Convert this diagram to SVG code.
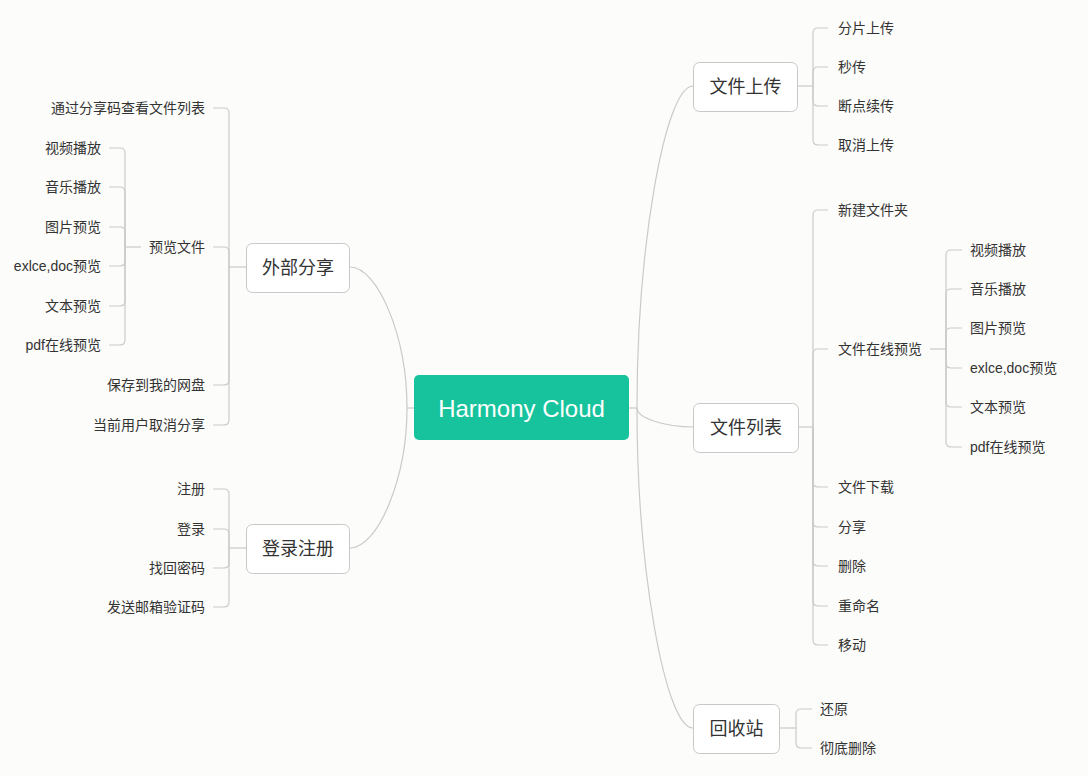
<svg xmlns="http://www.w3.org/2000/svg" width="1088" height="776" viewBox="0 0 1088 776">
<style>
text{font-family:"Liberation Sans","Noto Sans CJK SC",sans-serif;fill:#333;dominant-baseline:central}
.leaf{font-size:14px}
.r{text-anchor:start}
.l{text-anchor:end}
.node rect{fill:#fff;stroke:#c8c8c8;stroke-width:1}
.node text{font-size:18px;text-anchor:middle}
#root rect{fill:#16C39C;stroke:none}
#root text{fill:#fff;font-size:24px;text-anchor:middle}
#connectors path{fill:none;stroke:#cacaca;stroke-width:1.2}
</style>
<rect width="1088" height="776" fill="#fcfcfa"/>
<g id="connectors">
<path d="M629,408 H637"/>
<path d="M637,408 C637,247 665,86 693,86"/>
<path d="M637,408 C637,418 665,427 693,427"/>
<path d="M637,408 C637,568 665,728 693,728"/>
<path d="M414,408 H407"/>
<path d="M407,408 C407,337 378,267 350,267"/>
<path d="M407,408 C407,478 378,548 350,548"/>
<!-- 文件上传 -->
<path d="M797,86 H813"/>
<path d="M813,86 V33 Q813,28 818,28 H828"/>
<path d="M813,86 V72 Q813,67 818,67 H828"/>
<path d="M813,86 V101 Q813,106 818,106 H828"/>
<path d="M813,86 V140 Q813,145 818,145 H828"/>
<!-- 文件列表 -->
<path d="M798,427 H813"/>
<path d="M813,427 V215 Q813,210 818,210 H828"/>
<path d="M813,427 V354 Q813,349 818,349 H828"/>
<path d="M813,427 V482 Q813,487 818,487 H828"/>
<path d="M813,427 V522 Q813,527 818,527 H828"/>
<path d="M813,427 V561 Q813,566 818,566 H828"/>
<path d="M813,427 V601 Q813,606 818,606 H828"/>
<path d="M813,427 V640 Q813,645 818,645 H828"/>
<!-- 文件在线预览 -->
<path d="M930,349 H946"/>
<path d="M946,349 V255 Q946,250 951,250 H962"/>
<path d="M946,349 V294 Q946,289 951,289 H962"/>
<path d="M946,349 V333 Q946,328 951,328 H962"/>
<path d="M946,349 V363 Q946,368 951,368 H962"/>
<path d="M946,349 V402 Q946,407 951,407 H962"/>
<path d="M946,349 V442 Q946,447 951,447 H962"/>
<!-- 回收站 -->
<path d="M779,728 H796"/>
<path d="M796,728 V714 Q796,709 801,709 H812"/>
<path d="M796,728 V743 Q796,748 801,748 H812"/>
<!-- 外部分享 -->
<path d="M246,267 H229"/>
<path d="M229,267 V113 Q229,108 224,108 H213"/>
<path d="M229,267 V252 Q229,247 224,247 H213"/>
<path d="M229,267 V380 Q229,385 224,385 H213"/>
<path d="M229,267 V420 Q229,425 224,425 H213"/>
<!-- 预览文件 -->
<path d="M141,247 H125"/>
<path d="M125,247 V153 Q125,148 120,148 H109"/>
<path d="M125,247 V192 Q125,187 120,187 H109"/>
<path d="M125,247 V232 Q125,227 120,227 H109"/>
<path d="M125,247 V261 Q125,266 120,266 H109"/>
<path d="M125,247 V301 Q125,306 120,306 H109"/>
<path d="M125,247 V340 Q125,345 120,345 H109"/>
<!-- 登录注册 -->
<path d="M246,548 H229"/>
<path d="M229,548 V494 Q229,489 224,489 H213"/>
<path d="M229,548 V534 Q229,529 224,529 H213"/>
<path d="M229,548 V563 Q229,568 224,568 H213"/>
<path d="M229,548 V602 Q229,607 224,607 H213"/>
</g>
<g id="root"><rect x="414" y="375" width="215" height="65" rx="5"/><text x="521.5" y="408">Harmony Cloud</text></g>
<g id="n-upload" class="node"><rect x="693.5" y="62.5" width="104" height="49" rx="6"/><text x="745.5" y="87">文件上传</text></g>
<g id="n-list" class="node"><rect x="693.5" y="403.5" width="105" height="49" rx="6"/><text x="746" y="428">文件列表</text></g>
<g id="n-recycle" class="node"><rect x="693.5" y="704.5" width="86" height="49" rx="6"/><text x="736.5" y="729">回收站</text></g>
<g id="n-share" class="node"><rect x="246.5" y="243.5" width="103" height="49" rx="6"/><text x="298" y="268">外部分享</text></g>
<g id="n-login" class="node"><rect x="246.5" y="524.5" width="103" height="49" rx="6"/><text x="298" y="549">登录注册</text></g>
<g id="upload-children">
<text class="leaf r" x="838" y="28">分片上传</text>
<text class="leaf r" x="838" y="67">秒传</text>
<text class="leaf r" x="838" y="106">断点续传</text>
<text class="leaf r" x="838" y="145">取消上传</text>
</g>
<g id="list-children">
<text class="leaf r" x="838" y="210">新建文件夹</text>
<text class="leaf r" x="838" y="349">文件在线预览</text>
<text class="leaf r" x="838" y="487">文件下载</text>
<text class="leaf r" x="838" y="527">分享</text>
<text class="leaf r" x="838" y="566">删除</text>
<text class="leaf r" x="838" y="606">重命名</text>
<text class="leaf r" x="838" y="645">移动</text>
</g>
<g id="preview-children">
<text class="leaf r" x="970" y="250">视频播放</text>
<text class="leaf r" x="970" y="289">音乐播放</text>
<text class="leaf r" x="970" y="328">图片预览</text>
<text class="leaf r" x="970" y="368">exlce,doc预览</text>
<text class="leaf r" x="970" y="407">文本预览</text>
<text class="leaf r" x="970" y="447">pdf在线预览</text>
</g>
<g id="recycle-children">
<text class="leaf r" x="820" y="709">还原</text>
<text class="leaf r" x="820" y="748">彻底删除</text>
</g>
<g id="share-children">
<text class="leaf l" x="205" y="108">通过分享码查看文件列表</text>
<text class="leaf l" x="205" y="247">预览文件</text>
<text class="leaf l" x="205" y="385">保存到我的网盘</text>
<text class="leaf l" x="205" y="425">当前用户取消分享</text>
</g>
<g id="share-preview-children">
<text class="leaf l" x="101" y="148">视频播放</text>
<text class="leaf l" x="101" y="187">音乐播放</text>
<text class="leaf l" x="101" y="227">图片预览</text>
<text class="leaf l" x="101" y="266">exlce,doc预览</text>
<text class="leaf l" x="101" y="306">文本预览</text>
<text class="leaf l" x="101" y="345">pdf在线预览</text>
</g>
<g id="login-children">
<text class="leaf l" x="205" y="489">注册</text>
<text class="leaf l" x="205" y="529">登录</text>
<text class="leaf l" x="205" y="568">找回密码</text>
<text class="leaf l" x="205" y="607">发送邮箱验证码</text>
</g>
</svg>
